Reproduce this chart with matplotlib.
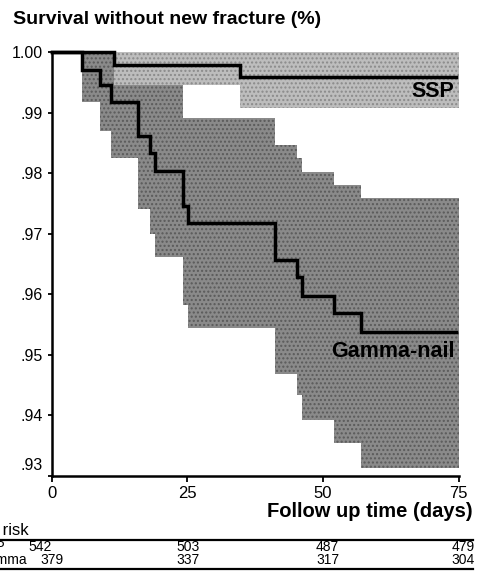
import matplotlib
matplotlib.use('Agg')
import matplotlib.pyplot as plt
from matplotlib.transforms import ScaledTranslation, blended_transform_factory

plt.rcParams['font.family'] = ['Liberation Sans', 'DejaVu Sans']

# Kaplan-Meier data
gamma_days = [0, 5.7, 8.9, 11.0, 15.9, 18.1, 19.1, 24.2, 25.2, 41.1, 45.2, 46.2, 52.1, 57.1]
gamma_surv = [1.0, .9970, .9946, .9918, .9861, .9834, .9803, .9746, .9717, .9656, .9629, .9598, .9569, .9538]
gamma_upper = [1.0, 1.0, 1.0, 1.0, .9982, .9966, .9950, .9891, .9891, .9846, .9825, .9802, .9780, .9759]
gamma_lower = [1.0, .9917, .9869, .9825, .9740, .9699, .9661, .9583, .9544, .9469, .9433, .9393, .9354, .9314]

ssp_days = [0, 11.5, 34.7]
ssp_surv = [1.0, .9979, .9958]
ssp_upper = [1.0, 1.0, 1.0]
ssp_lower = [1.0, .9945, .9907]

curve_end = 74.6
band_end = 75

risk_times = [0, 25, 50, 75]
ssp_risk = [542, 503, 487, 479]
gamma_risk = [379, 337, 317, 304]

y_ticks = [.93, .94, .95, .96, .97, .98, .99, 1.00]
y_labels = ['.93', '.94', '.95', '.96', '.97', '.98', '.99', '1.00']

fig = plt.figure(figsize=(4.81, 5.83), dpi=100)
ax = fig.add_axes([0.1071, 0.1835, 0.8462, 0.7273])

# confidence bands
ax.fill_between(gamma_days + [band_end], gamma_lower + [gamma_lower[-1]],
                gamma_upper + [gamma_upper[-1]], step='post',
                facecolor='#8a8a8a', edgecolor='#5a5a5a', hatch='....', linewidth=0)
ax.fill_between(ssp_days + [band_end], ssp_lower + [ssp_lower[-1]],
                ssp_upper + [ssp_upper[-1]], step='post',
                facecolor='#bdbdbd', edgecolor='#8a8a8a', hatch='....', linewidth=0)

# survival curves
ax.step(gamma_days + [curve_end], gamma_surv + [gamma_surv[-1]], where='post',
        color='black', lw=2.5, clip_on=False, solid_joinstyle='miter')
ax.step(ssp_days + [curve_end], ssp_surv + [ssp_surv[-1]], where='post',
        color='black', lw=2.5, clip_on=False, solid_joinstyle='miter')

ax.text(74.2, .9935, 'SSP', ha='right', va='center', fontsize=15.5, fontweight='bold')
ax.text(74.2, .9506, 'Gamma-nail', ha='right', va='center', fontsize=15.5, fontweight='bold')

ax.set_xlim(0, 75)
ax.set_ylim(.93, 1.0)
ax.set_xticks(risk_times)
ax.set_yticks(y_ticks)
ax.set_yticklabels(y_labels)
for s in ['top', 'right']:
    ax.spines[s].set_visible(False)
for s in ['left', 'bottom']:
    ax.spines[s].set_linewidth(1.8)
ax.tick_params(axis='x', direction='out', length=4, width=1.3, labelsize=12, pad=3)
ax.tick_params(axis='y', direction='out', length=3, width=1.3, labelsize=11.5, pad=3)
lab = ax.get_yticklabels()[0]
lab.set_transform(lab.get_transform() + ScaledTranslation(0, 9 / 72, fig.dpi_scale_trans))

fig.text(0.027, 0.9657, 'Survival without new fracture (%)', ha='left', va='center',
         fontsize=14, fontweight='bold')
fig.text(0.983, 0.1218, 'Follow up time (days)', ha='right', va='center',
         fontsize=14.5, fontweight='bold')

# number at risk table (left part is cut off by the figure edge, as in the source)
fig.text(0.059, 0.0909, 'Number at risk', ha='right', va='center', fontsize=12)
fig.text(-0.048, 0.0618, 'SSP', ha='left', va='center', fontsize=10)
fig.text(-0.048, 0.0395, 'Gamma', ha='left', va='center', fontsize=10)
fig.add_artist(plt.Line2D([0, 0.983], [0.0738, 0.0738], color='black', lw=1.6))
fig.add_artist(plt.Line2D([0, 0.983], [0.024, 0.024], color='black', lw=1.6))

tr = blended_transform_factory(ax.transData, fig.transFigure)
col_shift = [0.0, 0.2, 0.9, 0.8]
for i, t in enumerate(risk_times):
    if i == 0:
        ax.text(t + 0.1, 0.0618, str(ssp_risk[i]), transform=tr, ha='right', va='center', fontsize=10)
    else:
        ax.text(t + col_shift[i], 0.0618, str(ssp_risk[i]), transform=tr, ha='center', va='center', fontsize=10)
    ax.text(t + col_shift[i], 0.0395, str(gamma_risk[i]), transform=tr, ha='center', va='center', fontsize=10)

fig.savefig('out.png', dpi=100)
